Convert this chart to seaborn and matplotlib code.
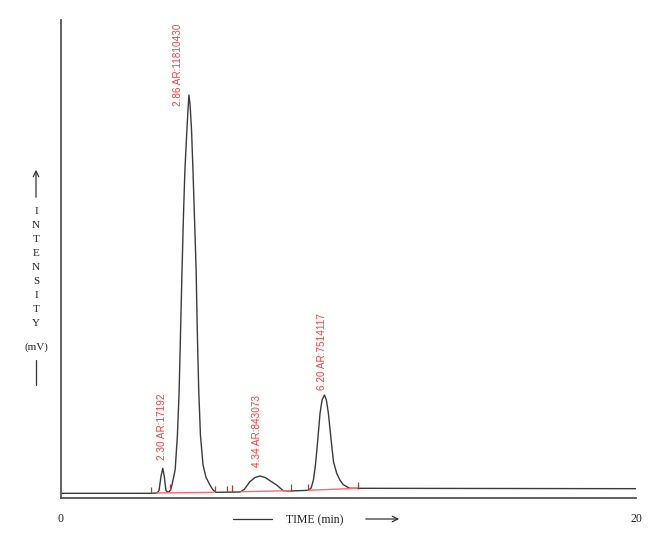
import numpy as np
import pandas as pd
import matplotlib
matplotlib.use("Agg")
import matplotlib.pyplot as plt
import seaborn as sns

# trace (time in min, intensity in mV)
time_min = [0.00, 3.10, 3.34, 3.41, 3.48, 3.54, 3.59, 3.65, 3.72, 3.77, 3.81,
            3.86, 3.97, 4.05, 4.11, 4.16, 4.21, 4.26, 4.31, 4.37, 4.42, 4.45,
            4.49, 4.54, 4.59, 4.64, 4.70, 4.74, 4.79, 4.85, 4.94,
            5.04, 5.18, 5.29, 5.39, 6.23, 6.37, 6.57, 6.75, 6.92, 7.10,
            7.27, 7.50, 7.73, 7.97, 8.60, 8.70, 8.78, 8.85, 8.91, 8.96, 9.01,
            9.08, 9.16, 9.23, 9.30, 9.36, 9.42, 9.48, 9.59, 9.70, 9.81, 9.94,
            10.05, 20.00]
intensity = [0.98, 0.98, 1.05, 1.57, 4.60, 6.21, 4.60, 1.57, 1.19, 1.36, 1.67,
             2.72, 5.86, 13.18, 22.59, 35.15, 47.70, 59.21, 68.62, 75.94, 81.59, 84.31,
             82.22, 76.99, 68.62, 59.21, 47.70, 35.15, 22.59, 13.18, 6.90,
             4.39, 2.72, 1.67, 1.19, 1.26, 1.78, 3.41, 4.29, 4.60, 4.29,
             3.62, 2.72, 1.53, 1.46, 1.61, 2.09, 3.77, 6.90, 10.73, 14.23, 17.72,
             20.50, 21.55, 20.50, 17.72, 14.23, 10.73, 7.53, 5.17, 3.77, 2.82, 2.36,
             2.03, 1.95]

# integration baselines (start/end time, start/end level)
base_t0 = [3.34, 6.26, 8.59]
base_t1 = [5.32, 7.97, 10.30]
base_y0 = [1.05, 1.32, 1.61]
base_y1 = [1.19, 1.53, 2.03]

# peak start/end markers
mark_t = [3.13, 3.79, 5.36, 5.77, 5.95, 8.00, 8.59, 10.33]
mark_y = [0.98, 1.60, 1.20, 1.20, 1.25, 1.45, 1.61, 1.95]

# peak annotations
peak_labels = ["2.30 AR:17192", "2.86 AR:11810430", "4.34 AR:843073", "6.20 AR:7514117"]
label_t = [3.50, 4.07, 6.82, 9.08]
label_y = [7.95, 82.0, 6.49, 22.6]

sns.set_style("white")
plt.rcParams["font.family"] = ["Liberation Serif", "DejaVu Serif"]

fig = plt.figure(figsize=(6.72, 5.46), dpi=100)
ax = fig.add_axes([61 / 672, 48 / 546, 575 / 672, 478 / 546])

trace = pd.DataFrame({"time": time_min, "mV": intensity})
sns.lineplot(data=trace, x="time", y="mV", ax=ax, color="#3a3a3a",
             linewidth=1.0, estimator=None, sort=False)

for t0, t1, y0, y1 in zip(base_t0, base_t1, base_y0, base_y1):
    ax.plot([t0, t1], [y0, y1], color="#ff6a6a", linewidth=1.0)

ax.vlines(mark_t, mark_y, np.array(mark_y) + 1.4, color="#b03a3a", linewidth=0.9)

for txt, t, y in zip(peak_labels, label_t, label_y):
    ax.text(t, y, txt, rotation=90, ha="center", va="bottom", color="#ff3c3c",
            fontsize=7.2, family=["Liberation Sans", "DejaVu Sans"])

ax.set_xlim(0, 20)
ax.set_ylim(0, 100)
ax.set_xticks([0, 20])
ax.set_xticklabels(["0", "20"])
ax.set_yticks([])
ax.tick_params(axis="x", length=0, pad=11, labelsize=8.5, labelcolor="#222222")
ax.set_xlabel("")
ax.set_ylabel("")
for side in ["top", "right"]:
    ax.spines[side].set_visible(False)
for side in ["left", "bottom"]:
    ax.spines[side].set_color("#555555")
    ax.spines[side].set_linewidth(1.3)

# hand-drawn style axis captions
W, H = 672, 546
def fx(px):
    return px / W
def fy(py):
    return 1 - py / H

fig.text(fx(315), fy(520), "TIME (min)", ha="center", va="center",
         fontsize=8.5, color="#222222")
fig.add_artist(plt.Line2D([fx(233), fx(272)], [fy(519), fy(519)], color="#333333", lw=0.9))
fig.patches.append(matplotlib.patches.FancyArrowPatch(
    (fx(363), fy(519)), (fx(402), fy(519)), transform=fig.transFigure,
    arrowstyle="->", mutation_scale=10, color="#333333", lw=0.9))

fig.patches.append(matplotlib.patches.FancyArrowPatch(
    (fx(36), fy(200)), (fx(36), fy(167)), transform=fig.transFigure,
    arrowstyle="->", mutation_scale=10, color="#333333", lw=0.9))
letters = list("INTENSITY")
for i, ch in enumerate(letters):
    fig.text(fx(36), fy(212 + i * 13.9), ch, ha="center", va="center",
             fontsize=8, color="#222222")
fig.text(fx(36), fy(347), "(mV)", ha="center", va="center", fontsize=8, color="#222222")
fig.add_artist(plt.Line2D([fx(36), fx(36)], [fy(360), fy(385)], color="#333333", lw=0.9))

fig.savefig("out.png", dpi=100)
